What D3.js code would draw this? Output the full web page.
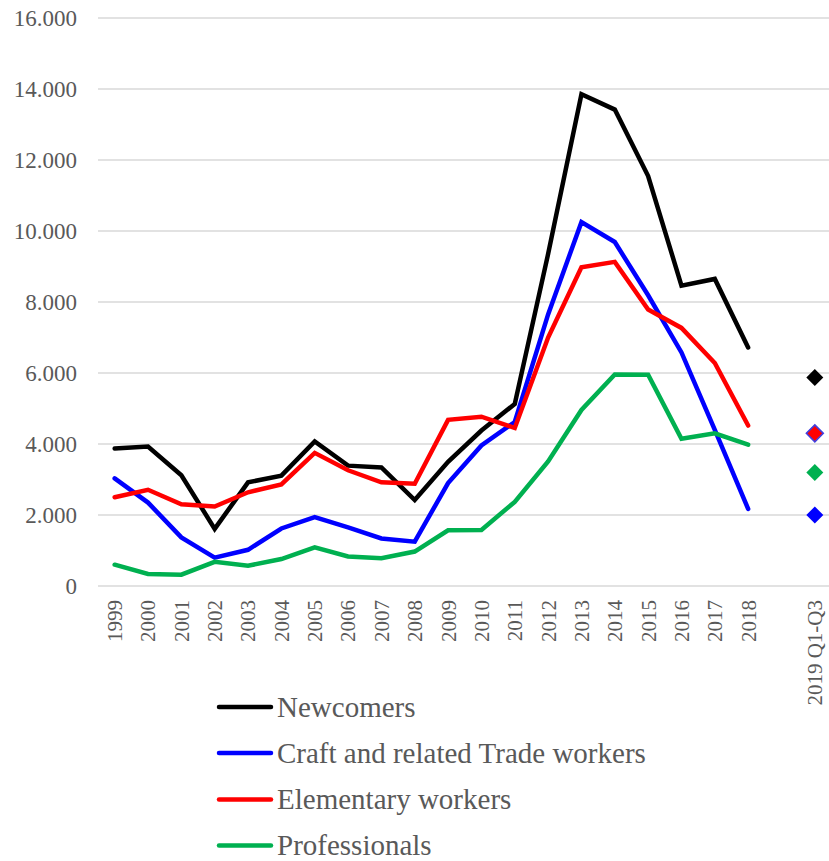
<!DOCTYPE html>
<html>
<head>
<meta charset="utf-8">
<script src="https://cdn.jsdelivr.net/npm/d3@7/dist/d3.min.js"></script>
<style>
  html, body { margin: 0; padding: 0; background: #fff; }
  svg { display: block; }
  text { font-family: "Liberation Serif", "Times New Roman", serif; fill: #595959; }
</style>
</head>
<body>
<svg id="chart" width="829" height="861"></svg>
<script>
// Yearly categories, a spacer slot, then the partial 2019 figure
const years = ["1999","2000","2001","2002","2003","2004","2005","2006","2007","2008",
               "2009","2010","2011","2012","2013","2014","2015","2016","2017","2018"];
const gapSlot = "gap";
const partialLabel = "2019 Q1-Q3";
const categories = [...years, gapSlot, partialLabel];

const yTicks = [0, 2000, 4000, 6000, 8000, 10000, 12000, 14000, 16000];

const seriesNames = ["Newcomers", "Craft and related Trade workers", "Elementary workers", "Professionals"];
const seriesColors = ["#000000", "#0000ff", "#ff0000", "#00b050"];

// 1999–2018 annual values
const newcomers    = [3870, 3930, 3120, 1610, 2920, 3110, 4070, 3390, 3340, 2420,
                      3500, 4380, 5130, 9350, 13850, 13420, 11550, 8460, 8650, 6720];
const craftTrade   = [3030, 2350, 1370, 800, 1020, 1620, 1940, 1650, 1340, 1250,
                      2900, 3960, 4620, 7650, 10250, 9690, 8190, 6580, 4400, 2170];
const elementary   = [2500, 2710, 2300, 2240, 2640, 2860, 3750, 3260, 2920, 2880,
                      4680, 4770, 4450, 7000, 8980, 9130, 7790, 7270, 6280, 4520];
const professionals = [600, 340, 320, 680, 570, 760, 1090, 830, 780, 970,
                      1570, 1580, 2370, 3510, 4960, 5960, 5950, 4150, 4300, 3980];

// 2019 Q1-Q3 values, drawn as single markers
const partial2019 = [5870, 2000, 4300, 3200];

const seriesValues = [newcomers, craftTrade, elementary, professionals];

const svg = d3.select("#chart");

const plotLeft = 98, plotRight = 831.5, plotTop = 18, plotBottom = 586;

const x = d3.scalePoint().domain(categories).range([plotLeft, plotRight]).padding(0.5);
const y = d3.scaleLinear().domain([0, 16000]).range([plotBottom, plotTop]);

const locale = d3.formatLocale({ decimal: ",", thousands: ".", grouping: [3], currency: ["", ""] });
const fmt = locale.format(",.0f");

// Horizontal gridlines
svg.append("g")
  .selectAll("line")
  .data(yTicks)
  .join("line")
  .attr("x1", plotLeft).attr("x2", 829)
  .attr("y1", d => y(d)).attr("y2", d => y(d))
  .attr("stroke", "#d9d9d9").attr("stroke-width", 1.5);

// Y axis labels
const yAxis = d3.axisLeft(y).tickValues(yTicks).tickFormat(fmt).tickSize(0).tickPadding(0);
svg.append("g")
  .attr("transform", `translate(77,0)`)
  .call(yAxis)
  .call(g => g.select(".domain").remove())
  .call(g => g.selectAll("text")
    .attr("font-size", 23)
    .attr("fill", "#595959")
    .attr("font-family", '"Liberation Serif", "Times New Roman", serif'));

// X axis labels, rotated
const xAxis = d3.axisBottom(x).tickSize(0).tickPadding(0)
  .tickFormat(d => d === gapSlot ? "" : d);
svg.append("g")
  .attr("transform", `translate(0,600)`)
  .call(xAxis)
  .call(g => g.select(".domain").remove())
  .call(g => g.selectAll("text")
    .attr("font-size", 21)
    .attr("fill", "#595959")
    .attr("font-family", '"Liberation Serif", "Times New Roman", serif')
    .attr("text-anchor", "end")
    .attr("transform", "rotate(-90)")
    .attr("x", 0).attr("y", 0).attr("dy", "0.33em"));

// Lines
const line = d3.line()
  .x((d, i) => x(years[i]))
  .y(d => y(d));

svg.append("g")
  .selectAll("path")
  .data(seriesValues)
  .join("path")
  .attr("d", d => line(d))
  .attr("fill", "none")
  .attr("stroke", (d, i) => seriesColors[i])
  .attr("stroke-width", 4.5)
  .attr("stroke-linejoin", "miter")
  .attr("stroke-linecap", "round");

// 2019 markers (diamonds)
const r = 8.5;
const diamond = `M0,${-r}L${r},0L0,${r}L${-r},0Z`;
const markerStroke = ["#000000", "#0000ff", "#4040e0", "#00b050"];
svg.append("g")
  .selectAll("path")
  .data(partial2019)
  .join("path")
  .attr("d", diamond)
  .attr("transform", d => `translate(${x(partialLabel)},${y(d)})`)
  .attr("fill", (d, i) => seriesColors[i])
  .attr("stroke", (d, i) => markerStroke[i])
  .attr("stroke-width", (d, i) => i === 2 ? 1.5 : 0);

// Legend
const legend = svg.append("g");
const legendY = [707, 753, 799.5, 845.5];
const items = legend.selectAll("g")
  .data(seriesNames)
  .join("g")
  .attr("transform", (d, i) => `translate(0,${legendY[i]})`);
items.append("line")
  .attr("x1", 219).attr("x2", 271)
  .attr("stroke", (d, i) => seriesColors[i])
  .attr("stroke-width", 4.5)
  .attr("stroke-linecap", "round");
items.append("text")
  .attr("x", 277)
  .attr("dy", "0.33em")
  .attr("font-size", 29)
  .text(d => d);
</script>
</body>
</html>
